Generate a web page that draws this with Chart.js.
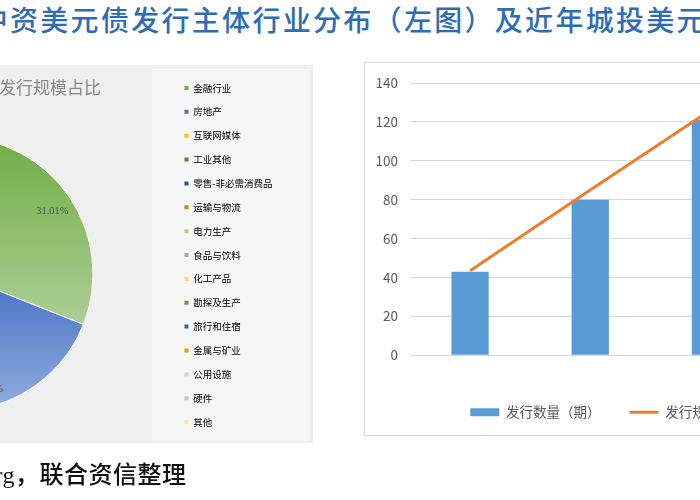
<!DOCTYPE html>
<html>
<head>
<meta charset="utf-8">
<script src="https://cdn.jsdelivr.net/npm/chart.js@4.4.1/dist/chart.umd.min.js"></script>
<style>
  html, body { margin: 0; padding: 0; }
  body { width: 700px; height: 500px; overflow: hidden; position: relative; background: #fff;
         font-family: "Noto Sans CJK SC", sans-serif; }
  .abs { position: absolute; white-space: nowrap; }
  #title { left: -20.3px; top: 0; font-size: 28px; line-height: 38px; letter-spacing: 2.3px; color: #2e6db5; font-weight: 500; }
  #piePanel { left: -10px; top: 65px; width: 323px; height: 378px; background: #efefef; }
  #legendBox { left: 152px; top: 69px; width: 158px; height: 372px; background: #f6f6f6; }
  #pieTitle { left: -1px; top: 75px; font-size: 17px; line-height: 24px; color: #888; }
  #barPanel { left: 364px; top: 62px; width: 500px; height: 372px; border: 1.5px solid #d9d9d9; background: #fff; }
  #pieWrap { left: -260px; top: 64px; width: 572px; height: 415px; }
  #barWrap { left: 365px; top: 63px; width: 527px; height: 374px; }
  #source { left: 15px; top: 460px; font-size: 24px; line-height: 30px; letter-spacing: 0.5px; color: #111; font-weight: 500;
            font-family: "Liberation Serif", "Noto Sans CJK SC", serif; }
  #source span { position: absolute; right: 100%; }
</style>
</head>
<body>
<div id="title" class="abs">中资美元债发行主体行业分布（左图）及近年城投美元债发行情况（右图）</div>
<div id="piePanel" class="abs"></div>
<div id="legendBox" class="abs"></div>
<div id="barPanel" class="abs"></div>
<div id="pieWrap" class="abs"><canvas id="pie"></canvas></div>
<div id="pieTitle" class="abs">发行规模占比</div>
<div id="barWrap" class="abs"><canvas id="bar"></canvas></div>
<div id="source" class="abs"><span>资料来源：Bloomberg</span>，联合资信整理</div>

<script>
// left: issuer industry shares (%)
const industries = ['金融行业', '房地产', '互联网媒体', '工业其他', '零售-非必需消费品', '运输与物流', '电力生产',
  '食品与饮料', '化工产品', '勘探及生产', '旅行和住宿', '金属与矿业', '公用设施', '硬件', '其他'];
const shares = [31.01, 29.48, 8.2, 6.1, 4.3, 3.6, 3.1, 2.4, 2.0, 1.9, 1.7, 1.5, 1.2, 0.9, 2.61];
const pieColors = ['#70ad47', '#4472c4', '#ffc000', '#4e8a2e', '#2f5597', '#bf9000', '#a9d18e',
  '#8faadc', '#ffd966', '#5f9e3f', '#3a62ad', '#dba800', '#c5e0b4', '#b4c7e7', '#ffe699'];

// right: city investment USD bonds by year
const years = ['2017年', '2018年', '2019年'];
const issueCount = [43, 80, 121];      // 发行数量（期）
const issueAmount = [43.5, 85, 126];   // 发行规模（亿美元）

Chart.defaults.font.family = '"Noto Sans CJK SC", sans-serif';
Chart.defaults.animation = false;

function tint(hex, t) {
  const n = parseInt(hex.slice(1), 16);
  const mix = c => Math.round(c + (255 - c) * t);
  return 'rgb(' + mix(n >> 16) + ',' + mix((n >> 8) & 255) + ',' + mix(n & 255) + ')';
}

// vertical gradient per slice, darker at the top like the Excel fill
function sliceFill(ctx) {
  const i = ctx.dataIndex;
  const base = pieColors[i];
  const arc = ctx.chart.getDatasetMeta(0).data[i];
  if (!arc || arc.outerRadius === undefined) return base;
  const { x, y, startAngle, endAngle, outerRadius: r } = arc;
  const ys = [y, y + r * Math.sin(startAngle), y + r * Math.sin(endAngle)];
  [-Math.PI / 2, Math.PI / 2, 3 * Math.PI / 2].forEach(a => {
    if (a >= startAngle && a <= endAngle) ys.push(y + r * Math.sin(a));
  });
  const g = ctx.chart.ctx.createLinearGradient(0, Math.min(...ys), 0, Math.max(...ys));
  g.addColorStop(0, base);
  g.addColorStop(1, tint(base, 0.42));
  return g;
}

const percentLabels = {
  id: 'percentLabels',
  afterDatasetsDraw(chart) {
    const c = chart.ctx;
    c.save();
    c.font = '10.5px "Liberation Serif"';
    c.fillStyle = '#4d4d4d';
    c.textAlign = 'center';
    c.textBaseline = 'middle';
    chart.getDatasetMeta(0).data.forEach((arc, i) => {
      const mid = (arc.startAngle + arc.endAngle) / 2;
      const rr = arc.outerRadius * 0.85;
      c.fillText(shares[i].toFixed(2) + '%', arc.x + rr * Math.cos(mid), arc.y + rr * Math.sin(mid) + 3);
    });
    c.restore();
  }
};

const pie = new Chart(document.getElementById('pie'), {
  type: 'pie',
  data: {
    labels: industries,
    datasets: [{ data: shares, backgroundColor: sliceFill, borderColor: '#ffffff', borderWidth: 1 }]
  },
  options: {
    responsive: true,
    maintainAspectRatio: false,
    radius: 137,
    layout: { padding: { left: 2, right: 29.5, top: 4.9, bottom: 0 } },
    plugins: {
      tooltip: { enabled: false },
      legend: {
        position: 'right',
        align: 'start',
        labels: {
          boxWidth: 4,
          boxHeight: 4,
          padding: 14.36,
          color: '#8a8a8a',
          font: { size: 9.5 },
          generateLabels: () => industries.map((t, i) => ({
            text: t, fillStyle: pieColors[i], strokeStyle: pieColors[i], lineWidth: 0, hidden: false, index: i
          }))
        }
      }
    }
  },
  plugins: [percentLabels]
});
pie.update(); // second pass so the gradients know each slice's geometry

new Chart(document.getElementById('bar'), {
  type: 'bar',
  data: {
    labels: years,
    datasets: [
      {
        label: '发行数量（期）',
        data: issueCount,
        backgroundColor: '#5b9bd5',
        barPercentage: 0.31,
        categoryPercentage: 1,
        pointStyle: 'rect',
        order: 1
      },
      {
        type: 'line',
        label: '发行规模（亿美元）',
        data: issueAmount,
        yAxisID: 'y1',
        borderColor: '#ed7d31',
        backgroundColor: '#ed7d31',
        borderWidth: 3,
        pointRadius: 0,
        pointStyle: 'line',
        tension: 0,
        order: 0
      }
    ]
  },
  options: {
    responsive: true,
    maintainAspectRatio: false,
    layout: { padding: { left: 0, right: 0, top: 20, bottom: 8 } },
    scales: {
      x: {
        grid: { display: false },
        border: { color: '#d9d9d9' },
        ticks: { color: '#595959', font: { size: 13.5 }, padding: 14 },
        afterFit: s => { s.height = 21.25; }
      },
      y: {
        min: 0,
        max: 140,
        ticks: { stepSize: 20, color: '#595959', font: { size: 13.5 }, padding: 12 },
        grid: { color: '#d9d9d9', drawTicks: false },
        border: { display: false },
        afterFit: s => { s.width = 45; }
      },
      y1: {
        position: 'right',
        min: 0,
        max: 140,
        ticks: { display: false },
        grid: { display: false },
        border: { display: false },
        afterFit: s => { s.width = 121.5; }
      }
    },
    plugins: {
      tooltip: { enabled: false },
      legend: {
        position: 'bottom',
        labels: {
          usePointStyle: true,
          pointStyleWidth: 29,
          boxHeight: 8,
          padding: 29,
          color: '#595959',
          font: { size: 13.5 },
          sort: (a, b) => a.datasetIndex - b.datasetIndex
        }
      }
    }
  }
});
</script>
</body>
</html>
